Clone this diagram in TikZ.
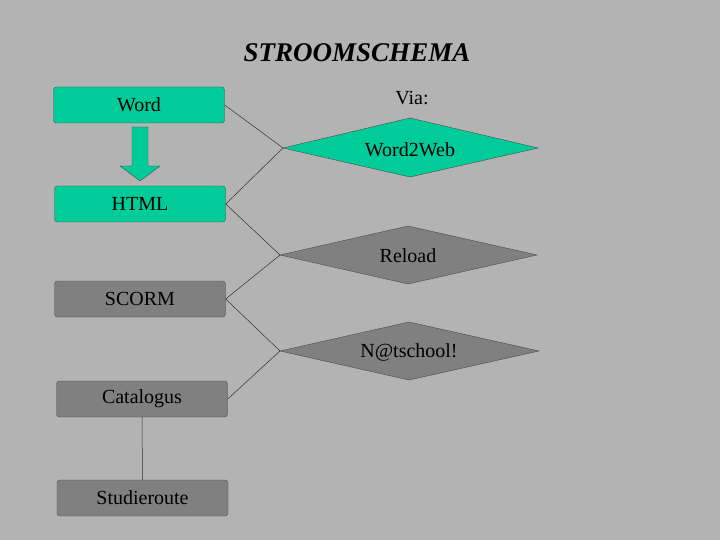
\documentclass[tikz,border=0pt]{standalone}
\usepackage{fontspec}
\setmainfont{Liberation Serif}
\usetikzlibrary{shapes.geometric,shapes.arrows}
\definecolor{bg}{HTML}{B3B3B3}
\definecolor{teal}{HTML}{00CC99}
\definecolor{dgray}{HTML}{808080}
\begin{document}
\begin{tikzpicture}[x=1pt,y=-1pt,
  box/.style={draw=black!70,rounded corners=3pt,minimum width=171pt,minimum height=36pt,font=\fontsize{20}{22}\selectfont,inner sep=0pt},
  dia/.style={draw=black!70,diamond,inner sep=0pt,font=\fontsize{20}{22}\selectfont},
  con/.style={draw=black!80,line width=0.5pt}]
\fill[bg] (0,0) rectangle (720,540);
\useasboundingbox (0,0) rectangle (720,540);
\node[font=\fontsize{27}{30}\selectfont\bfseries\itshape] (title) at (357,53) {STROOMSCHEMA};
\node[box,fill=teal] (word) at (139,105) {Word};
\node[box,fill=teal] (html) at (140,204) {HTML};
\node[box,fill=dgray] (scorm) at (140,299) {SCORM};
\node[box,fill=dgray] (cat) at (142,399) {Catalogus};
\node[box,fill=dgray] (stud) at (142.5,498) {Studieroute};
\node[font=\fontsize{20}{22}\selectfont] (via) at (412,98) {Via:};
\path[dia,fill=teal] (283,148) coordinate (w2wl) -- (410,118) -- (538,148) -- (410,177) -- cycle;
\node[font=\fontsize{20}{22}\selectfont] (w2w) at (410,150) {Word2Web};
\path[dia,fill=dgray] (280,255) coordinate (rell) -- (408,226) -- (537,255) -- (408,284) -- cycle;
\node[font=\fontsize{20}{22}\selectfont] (rel) at (408,256) {Reload};
\path[dia,fill=dgray] (280,351) coordinate (ntsl) -- (409,322) -- (539,351) -- (409,380) -- cycle;
\node[font=\fontsize{20}{22}\selectfont] (nts) at (409,352) {N@tschool!};
\path[draw=black!70,fill=teal] (132,127) -- (148,127) -- (148,166) -- (160,166) -- (140,181) -- (120,166) -- (132,166) -- cycle;
\draw[con] (word.east) -- (w2wl);
\draw[con] (html.east) -- (w2wl);
\draw[con] (html.east) -- (rell);
\draw[con] (scorm.east) -- (rell);
\draw[con] (scorm.east) -- (ntsl);
\draw[con] (cat.east) -- (ntsl);
\draw[con] (cat.south) -- (stud.north);
\end{tikzpicture}
\end{document}
